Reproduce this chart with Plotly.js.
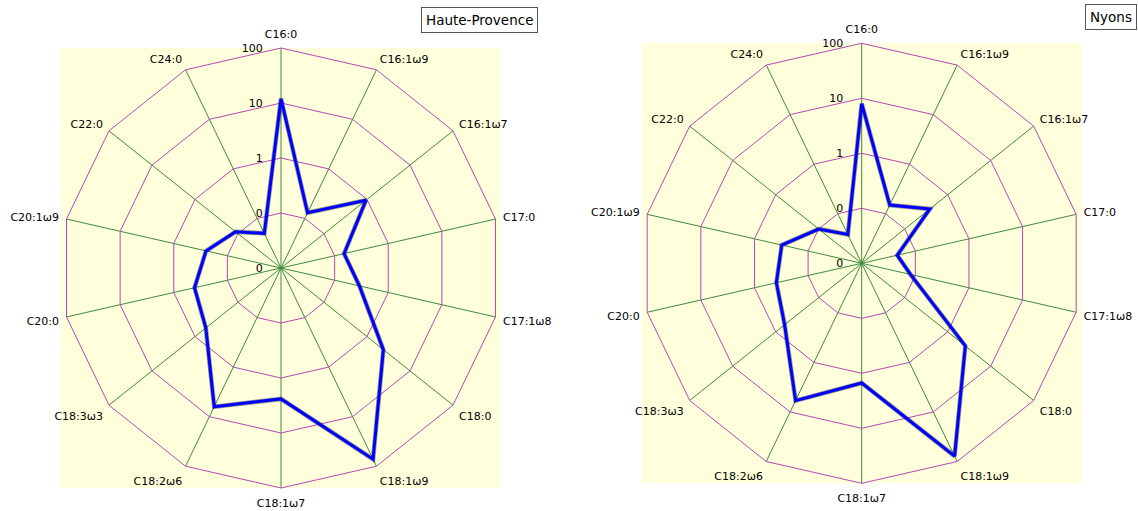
<!DOCTYPE html>
<html>
<head>
<meta charset="utf-8">
<script src="https://cdn.plot.ly/plotly-3.0.1.min.js"></script>
<style>html,body{margin:0;padding:0;background:#fff;}#chart{width:1138px;height:511px;}</style>
</head>
<body>
<div id="chart"></div>
<script>
const categories = ["C16:0","C16:1ω9","C16:1ω7","C17:0","C17:1ω8","C18:0","C18:1ω9","C18:1ω7","C18:2ω6","C18:3ω3","C20:0","C20:1ω9","C22:0","C24:0"];
const hauteProvence = [12, 0.13, 0.95, 0.15, 0.29, 2.4, 72, 2.4, 6.3, 0.56, 0.41, 0.25, 0.114, 0.05];
const nyons = [8.0, 0.15, 0.385, 0.046, 0.081, 2.57, 78, 1.5, 5.9, 0.62, 0.39, 0.31, 0.10, 0.038];
const radialTickVals = [0.01, 0.1, 1, 10, 100];
const radialTickText = ["0", "0", "1", "10", "100"];
const titles = ["Haute-Provence", "Nyons"];

const W = 1138, H = 511;
const YELLOW = "#FFFFDB", MAGENTA = "#B548B5", GREEN = "#3E8A3E", BLUE = "#0000FF";
const FONT = "DejaVu Sans, Verdana, sans-serif";

function closed(a){ return a.concat([a[0]]); }
function dom(cx, cy, r){ return {x:[(cx-r)/W,(cx+r)/W], y:[(H-(cy+r))/H,(H-(cy-r))/H]}; }

const geo = [{cx:281, cy:268, r:220}, {cx:861.7, cy:263.3, r:220}];
const series = [hauteProvence, nyons];

const traces = [];
series.forEach((vals, i) => {
  const sub = i === 0 ? "polar" : "polar2";
  traces.push({type:"scatterpolar", subplot:sub, r:closed(vals), theta:closed(categories), mode:"lines",
    line:{color:"rgba(30,30,50,0.45)", width:4.6}, hoverinfo:"skip", showlegend:false});
  traces.push({type:"scatterpolar", subplot:sub, r:closed(vals), theta:closed(categories), mode:"lines",
    line:{color:BLUE, width:3}, name:titles[i], showlegend:false});
});

function polarCfg(g){
  const d = dom(g.cx, g.cy, g.r);
  return {
    domain:d, bgcolor:"rgba(0,0,0,0)", gridshape:"linear",
    radialaxis:{type:"log", range:[-2,2], tickvals:radialTickVals, ticktext:radialTickText,
      angle:90, side:"counterclockwise", showline:false, ticks:"outside", ticklen:14, tickcolor:"rgba(0,0,0,0)",
      gridcolor:MAGENTA, gridwidth:1,
      tickfont:{family:FONT, size:11, color:"#000"}, layer:"below traces", tickangle:90},
    angularaxis:{type:"category", categoryarray:categories, direction:"clockwise", rotation:90,
      showline:true, linecolor:MAGENTA, linewidth:1, gridcolor:GREEN, gridwidth:1,
      ticks:"outside", ticklen:5, tickcolor:"rgba(0,0,0,0)",
      tickfont:{family:FONT, size:11, color:"#000"}, layer:"below traces"}
  };
}

const shapes = geo.map(g => ({type:"rect", xref:"paper", yref:"paper", layer:"below",
  x0:(g.cx-g.r)/W, x1:(g.cx+g.r)/W, y0:(H-(g.cy+g.r))/H, y1:(H-(g.cy-g.r))/H,
  fillcolor:YELLOW, line:{width:0}}));

const annotations = [
  {text:titles[0], xref:"paper", yref:"paper", x:479.5/W, y:(H-20.5)/H, xanchor:"center", yanchor:"middle",
   showarrow:false, font:{family:FONT, size:13.5, color:"#000"}, bordercolor:"#555", borderwidth:1, borderpad:4, bgcolor:"#fff"},
  {text:titles[1], xref:"paper", yref:"paper", x:1110.5/W, y:(H-17)/H, xanchor:"center", yanchor:"middle",
   showarrow:false, font:{family:FONT, size:13.5, color:"#000"}, bordercolor:"#555", borderwidth:1, borderpad:4, bgcolor:"#fff"}
];

const layout = {
  width:W, height:H, margin:{l:0,r:0,t:0,b:0}, paper_bgcolor:"#fff", showlegend:false,
  polar:polarCfg(geo[0]), polar2:polarCfg(geo[1]), shapes:shapes, annotations:annotations,
  font:{family:FONT}
};
Plotly.newPlot("chart", traces, layout, {displayModeBar:false, staticPlot:true});
</script>
</body>
</html>
